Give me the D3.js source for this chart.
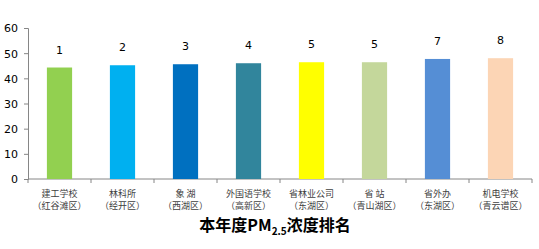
<!DOCTYPE html>
<html>
<head>
    <meta charset="utf-8">
    <script src="https://d3js.org/d3.v7.min.js"></script>
    <style>
        body { margin: 0; background: #fff; }
        svg { font-family: "Noto Sans CJK SC", "DejaVu Sans", sans-serif; }
        .axis path, .axis line { stroke: #868686; }
        .axis text { fill: #000; font-family: "DejaVu Sans", sans-serif; font-size: 11px; }
        .cat { fill: #404040; font-size: 9px; }
        .rank { font-family: "DejaVu Sans", sans-serif; font-size: 11px; fill: #000; }
        .title { font-size: 16px; font-weight: bold; fill: #000; }
    </style>
</head>
<body>
    <svg width="539" height="249"></svg>
    <script>
        const sites = ['建工学校', '林科所', '象 湖', '外国语学校', '省林业公司', '省 站', '省外办', '机电学校'];
        const districts = ['（红谷滩区）', '（经开区）', '（西湖区）', '（高新区）', '（东湖区）', '（青山湖区）', '（东湖区）', '（青云谱区）'];
        const values = [44.3, 45.2, 45.6, 46.0, 46.4, 46.4, 47.7, 48.0];
        const ranks = [1, 2, 3, 4, 5, 5, 7, 8];
        const colors = ['#92D050', '#00B0F0', '#0070C0', '#31859C', '#FFFF00', '#C4D79B', '#558ED5', '#FCD5B5'];
        const yTicks = [0, 10, 20, 30, 40, 50, 60];

        const data = sites.map((s, i) => ({site: s, district: districts[i], value: values[i], rank: ranks[i], color: colors[i]}));

        const margin = {top: 28, left: 28};
        const width = 504;
        const height = 151;

        const svg = d3.select('svg')
            .append('g')
            .attr('transform', `translate(${margin.left},${margin.top})`);

        const x = d3.scaleBand()
            .domain(sites)
            .range([0, width])
            .paddingInner(0.6)
            .paddingOuter(0.3);

        const y = d3.scaleLinear()
            .domain([0, 60])
            .range([height, 0]);

        svg.append('g')
            .attr('class', 'axis')
            .call(d3.axisLeft(y).tickValues(yTicks).tickSize(4).tickPadding(6))
            .call(g => g.selectAll('.tick text').attr('dy', '0.35em'));

        const xAxis = svg.append('g')
            .attr('class', 'axis')
            .attr('transform', `translate(0,${height})`);
        xAxis.append('line')
            .attr('x1', 0).attr('x2', width)
            .attr('y1', 0).attr('y2', 0);
        xAxis.selectAll('.xtick')
            .data(d3.range(sites.length + 1))
            .enter()
            .append('line')
            .attr('x1', i => i * x.step())
            .attr('x2', i => i * x.step())
            .attr('y1', 0).attr('y2', 4);

        svg.selectAll('.bar')
            .data(data)
            .enter()
            .append('rect')
            .attr('x', d => x(d.site))
            .attr('y', d => y(d.value))
            .attr('width', x.bandwidth())
            .attr('height', d => height - y(d.value))
            .attr('fill', d => d.color);

        svg.selectAll('.rank')
            .data(data)
            .enter()
            .append('text')
            .attr('class', 'rank')
            .attr('x', d => x(d.site) + x.bandwidth() / 2)
            .attr('y', d => y(d.value) - 14)
            .attr('text-anchor', 'middle')
            .text(d => d.rank);

        const cats = svg.selectAll('.cat')
            .data(data)
            .enter()
            .append('text')
            .attr('class', 'cat')
            .attr('text-anchor', 'middle')
            .attr('x', d => x(d.site) + x.bandwidth() / 2);
        cats.append('tspan')
            .attr('x', d => x(d.site) + x.bandwidth() / 2)
            .attr('y', height + 18)
            .text(d => d.site);
        cats.append('tspan')
            .attr('x', d => x(d.site) + x.bandwidth() / 2)
            .attr('y', height + 30)
            .text(d => d.district);

        const title = d3.select('svg').append('text')
            .attr('class', 'title')
            .attr('x', 275)
            .attr('y', 231)
            .attr('text-anchor', 'middle');
        title.append('tspan').text('本年度PM');
        title.append('tspan').attr('font-size', '10px').attr('dy', 4).text('2.5');
        title.append('tspan').attr('dy', -4).text('浓度排名');
    </script>
</body>
</html>
